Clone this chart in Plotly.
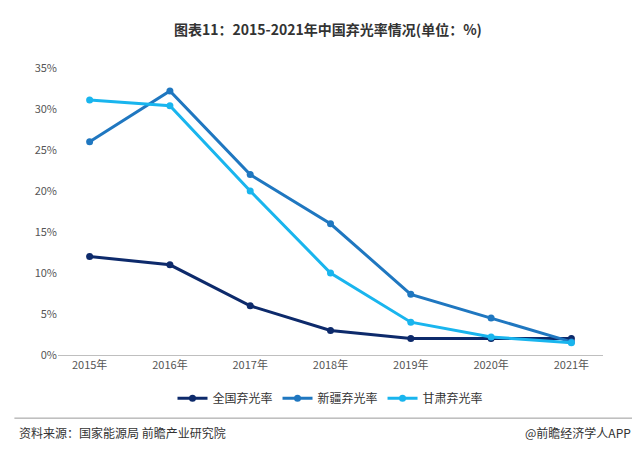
import plotly.graph_objects as go

years = ['2015年', '2016年', '2017年', '2018年', '2019年', '2020年', '2021年']
quanguo = [12, 11, 6, 3, 2, 2, 2]
xinjiang = [26, 32.2, 22, 16, 7.4, 4.5, 1.6]
gansu = [31.1, 30.4, 20, 10, 4, 2.2, 1.5]

font = 'Noto Sans CJK SC'
fig = go.Figure()
for name, vals, color in [('全国弃光率', quanguo, '#0d2a6b'),
                          ('新疆弃光率', xinjiang, '#1f77c0'),
                          ('甘肃弃光率', gansu, '#19b5ee')]:
    fig.add_trace(go.Scatter(x=years, y=vals, name=name, mode='lines+markers',
                             line=dict(color=color, width=3),
                             marker=dict(size=7, color=color)))

fig.update_layout(
    width=640, height=467, plot_bgcolor='white', paper_bgcolor='white',
    font=dict(family=font, size=11, color='#555555'),
    title=dict(text='<b>图表11：2015-2021年中国弃光率情况(单位：%)</b>', x=0.5, y=0.963,
               font=dict(size=14, color='#333333')),
    margin=dict(l=50, r=45, t=60, b=120),
    legend=dict(orientation='h', x=0.5, xanchor='center', y=-0.1, yanchor='top',
                font=dict(size=12, color='#333333')),
    xaxis=dict(showline=True, linecolor='#bfbfbf', ticks='', showgrid=False),
    yaxis=dict(range=[0, 35], dtick=5, ticksuffix='%', showgrid=False, zeroline=False),
)
fig.add_shape(type='line', xref='paper', yref='paper', x0=-0.08, x1=1.07, y0=-0.22, y1=-0.22,
              line=dict(color='#999999', width=1))
fig.add_annotation(text='资料来源：国家能源局 前瞻产业研究院', xref='paper', yref='paper',
                   x=-0.075, y=-0.27, xanchor='left', yanchor='middle', showarrow=False,
                   font=dict(size=12, color='#333333'))
fig.add_annotation(text='@前瞻经济学人APP', xref='paper', yref='paper',
                   x=1.055, y=-0.27, xanchor='right', yanchor='middle', showarrow=False,
                   font=dict(size=12, color='#333333'))
fig.write_html('out.html')
